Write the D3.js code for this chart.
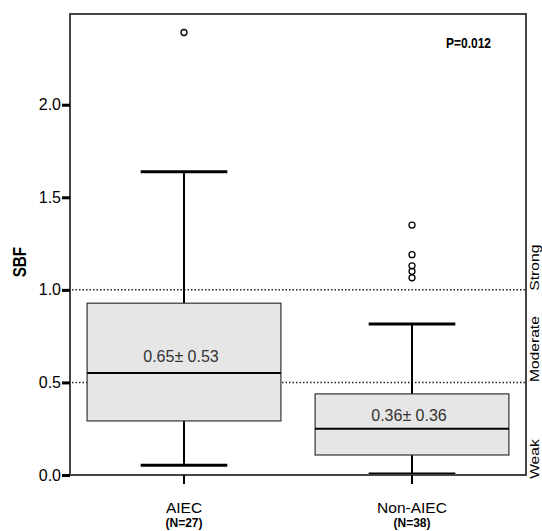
<!DOCTYPE html>
<html>
<head>
  <meta charset="utf-8">
  <title>SBF boxplot</title>
  <style>
    body { margin: 0; background: #fff; }
    text { font-family: "Liberation Sans", Arial, sans-serif; }
  </style>
</head>
<body>
  <div id='chart'></div>
  <script src="https://d3js.org/d3.v7.min.js"></script>
  <script>

    function translate(x, y) {
      return 'translate(' + x + ',' + y + ')';
    }

    // data
    let groups = ['AIEC', 'Non-AIEC'];
    let groupN = ['(N=27)', '(N=38)'];
    let lowWhisker = [0.052, 0.005];
    let q1 = [0.292, 0.108];
    let median = [0.551, 0.25];
    let q3 = [0.928, 0.438];
    let highWhisker = [1.638, 0.815];
    let outliers = [[2.39], [1.35, 1.19, 1.13, 1.10, 1.065]];
    let meanSd = ['0.65\u00B1 0.53', '0.36\u00B1 0.36'];
    let meanLabelPos = [0.609, 0.293];
    let yTicks = [0.0, 0.5, 1.0, 1.5, 2.0];
    let cutoffs = [0.5, 1.0];
    let zoneNames = ['Weak', 'Moderate', 'Strong'];
    let zoneLabelPos = [0.086, 0.68, 1.12];
    let pValue = 'P=0.012';

    let svgWidth = 542;
    let svgHeight = 531;
    let margin = {top: 14, right: 16, bottom: 56, left: 70};
    let width = svgWidth - margin.left - margin.right;
    let height = svgHeight - margin.top - margin.bottom;

    let svg = d3.select('#chart')
      .append('svg')
      .attr('width', svgWidth)
      .attr('height', svgHeight)
      .append('g')
        .attr('transform', translate(margin.left, margin.top));

    let x = d3.scaleBand()
      .domain(groups)
      .range([0, width]);

    let y = d3.scaleLinear()
      .domain([0, 2.49])
      .range([height, 0]);

    let boxW = x.bandwidth() * 0.85;
    let capW = x.bandwidth() * 0.38;
    let cx = g => x(g) + x.bandwidth() / 2;

    // cut-off lines
    svg.selectAll('.cut')
      .data(cutoffs)
      .enter()
      .append('line')
      .attr('x1', 2)
      .attr('x2', width)
      .attr('y1', d => y(d))
      .attr('y2', d => y(d))
      .attr('stroke', '#222')
      .attr('stroke-width', 1.5)
      .attr('stroke-dasharray', '1.5,2');

    let box = svg.selectAll('.box')
      .data(groups)
      .enter()
      .append('g');

    // whisker stems
    box.append('line')
      .attr('x1', cx).attr('x2', cx)
      .attr('y1', (d, i) => y(lowWhisker[i]))
      .attr('y2', (d, i) => y(highWhisker[i]))
      .attr('stroke', '#000')
      .attr('stroke-width', 2);

    // caps
    [lowWhisker, highWhisker].forEach(function(arr) {
      box.append('line')
        .attr('x1', d => cx(d) - capW / 2)
        .attr('x2', d => cx(d) + capW / 2)
        .attr('y1', (d, i) => y(arr[i]))
        .attr('y2', (d, i) => y(arr[i]))
        .attr('stroke', '#000')
        .attr('stroke-width', 3);
    });

    box.append('rect')
      .attr('x', d => cx(d) - boxW / 2)
      .attr('width', boxW)
      .attr('y', (d, i) => y(q3[i]))
      .attr('height', (d, i) => y(q1[i]) - y(q3[i]))
      .attr('fill', '#e6e6e6')
      .attr('stroke', '#333')
      .attr('stroke-width', 1.2);

    box.append('line')
      .attr('x1', d => cx(d) - boxW / 2)
      .attr('x2', d => cx(d) + boxW / 2)
      .attr('y1', (d, i) => y(median[i]))
      .attr('y2', (d, i) => y(median[i]))
      .attr('stroke', '#000')
      .attr('stroke-width', 2);

    box.append('text')
      .attr('x', d => cx(d) - 3)
      .attr('y', (d, i) => y(meanLabelPos[i]))
      .attr('text-anchor', 'middle')
      .attr('font-size', 16)
      .attr('fill', '#333')
      .text((d, i) => meanSd[i]);

    box.each(function(g, i) {
      d3.select(this).selectAll('circle')
        .data(outliers[i])
        .enter()
        .append('circle')
        .attr('cx', cx(g))
        .attr('cy', d => y(d))
        .attr('r', 3)
        .attr('fill', 'none')
        .attr('stroke', '#000')
        .attr('stroke-width', 1.3);
    });

    // frame
    svg.append('rect')
      .attr('width', width)
      .attr('height', height)
      .attr('fill', 'none')
      .attr('stroke', '#444')
      .attr('stroke-width', 2);

    // y axis
    let yAxis = svg.append('g')
      .call(d3.axisLeft(y).tickValues(yTicks).tickFormat(d3.format('.1f')).tickSize(8).tickPadding(1));
    yAxis.select('.domain').remove();
    yAxis.selectAll('line').attr('stroke', '#000').attr('stroke-width', 3);
    yAxis.selectAll('text')
      .attr('font-size', 16)
      .attr('fill', '#000')
      .style('font-family', '"Liberation Sans", Arial, sans-serif');

    svg.append('text')
      .attr('transform', translate(-44, y(1.15)) + ' rotate(-90) scale(0.85,1)')
      .attr('text-anchor', 'middle')
      .attr('font-size', 18)
      .attr('font-weight', 'bold')
      .text('SBF');

    // x axis
    let xAxis = svg.append('g')
      .attr('transform', translate(0, height))
      .call(d3.axisBottom(x).tickSize(9).tickFormat(''));
    xAxis.select('.domain').remove();
    xAxis.selectAll('line').attr('stroke', '#000').attr('stroke-width', 2);

    svg.selectAll('.xlab')
      .data(groups)
      .enter()
      .append('text')
      .attr('x', cx)
      .attr('y', height + 38)
      .attr('text-anchor', 'middle')
      .attr('font-size', 15.5)
      .text(d => d);

    svg.selectAll('.nlab')
      .data(groups)
      .enter()
      .append('text')
      .attr('x', cx)
      .attr('y', height + 52)
      .attr('text-anchor', 'middle')
      .attr('font-size', 12)
      .attr('font-weight', 'bold')
      .text((d, i) => groupN[i]);

    // zone labels (narrow, along the right edge)
    svg.selectAll('.zone')
      .data(zoneNames)
      .enter()
      .append('text')
      .attr('transform', (d, i) => translate(width + 13, y(zoneLabelPos[i])) + ' rotate(-90) scale(1.25,1)')
      .attr('text-anchor', 'middle')
      .attr('font-size', 12.5)
      .text(d => d);

    // condensed p-value label
    svg.append('text')
      .attr('transform', translate(width - 35, 34) + ' scale(0.8,1)')
      .attr('text-anchor', 'end')
      .attr('font-size', 15)
      .attr('font-weight', 'bold')
      .text(pValue);

  </script>
</body>
</html>
